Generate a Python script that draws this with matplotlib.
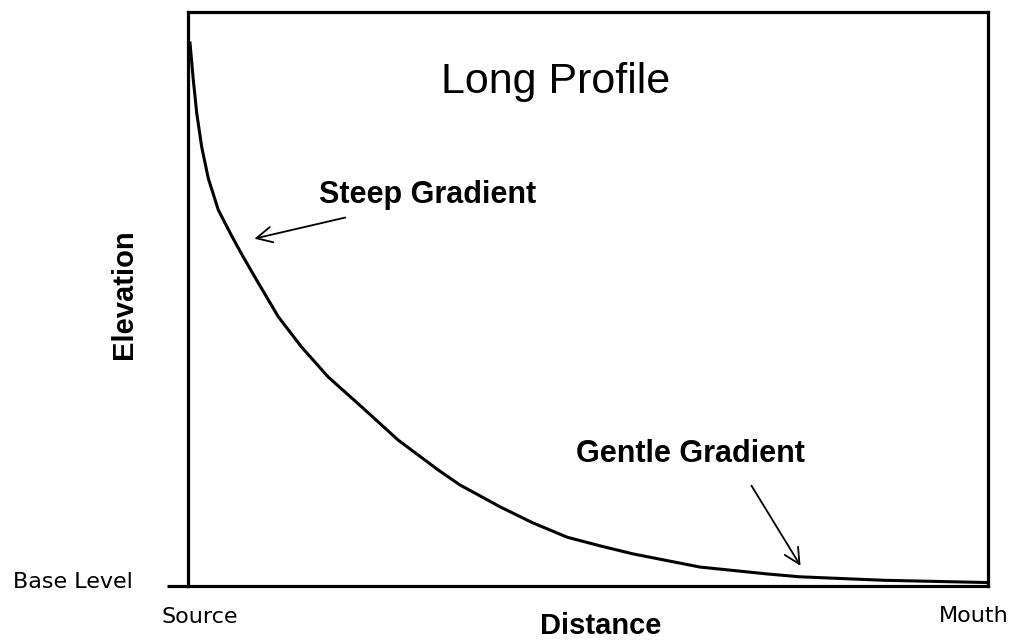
import numpy as np
import matplotlib.pyplot as plt

# data (distance and elevation in arbitrary units)
distance = [0.25, 0.66, 1.09, 1.71, 2.54, 3.79, 5.46, 6.71, 8.79, 11.29, 14.21,
            17.54, 21.71, 26.29, 31.29, 34.0, 39.0, 43.1, 47.4, 51.5, 55.6,
            64.0, 72.4, 76.5, 86.9, 100.0]
elevation = [94.6, 88.2, 82.4, 76.5, 71.0, 65.5, 61.0, 57.8, 52.8, 46.9, 41.6,
             36.4, 31.2, 25.4, 20.2, 17.6, 13.8, 11.0, 8.5, 7.0, 5.6,
             3.3, 2.1, 1.6, 1.0, 0.6]

steep_xy = (7.96, 60.4)
steep_text = (20.0, 64.3)
gentle_xy = (76.75, 3.1)
gentle_text = (70.25, 17.9)

fig = plt.figure(figsize=(10.11, 6.41), dpi=100)
ax = fig.add_axes([188/1011, 55/641, 800/1011, 574/641])
ax.plot(distance, elevation, color='black', lw=2.2, solid_joinstyle='round')
ax.set_xlim(0, 100)
ax.set_ylim(0, 100)
ax.set_xticks([])
ax.set_yticks([])
for s in ax.spines.values():
    s.set_linewidth(2.3)
# base level line runs a bit left of the axis
ax.plot([-2.6, 0], [0, 0], color='black', lw=2.3, clip_on=False, solid_capstyle='butt')

ax.text(45.9, 85.9, "Long Profile", fontsize=31, family='Liberation Sans',
        ha='center', va='baseline')

ax.annotate("", xy=steep_xy, xytext=steep_text,
            arrowprops=dict(arrowstyle='->', color='black', lw=1.3, mutation_scale=28))
ax.text(30.0, 66.7, "Steep Gradient", fontsize=22, family='Liberation Sans',
        weight='bold', ha='center', va='baseline')

ax.annotate("", xy=gentle_xy, xytext=gentle_text,
            arrowprops=dict(arrowstyle='->', color='black', lw=1.3, mutation_scale=28))
ax.text(62.75, 21.6, "Gentle Gradient", fontsize=22, family='Liberation Sans',
        weight='bold', ha='center', va='baseline')

fig.text(601/1011, 7/641, "Distance", fontsize=21, family='Liberation Sans',
         weight='bold', ha='center', va='baseline')
fig.text(124/1011, 347/641, "Elevation", fontsize=21, family='Liberation Sans',
         weight='bold', ha='center', va='center', rotation=90)
fig.text(13/1011, 53/641, "Base Level", fontsize=16, family='DejaVu Sans',
         ha='left', va='baseline')
fig.text(200/1011, 18/641, "Source", fontsize=16, family='DejaVu Sans',
         ha='center', va='baseline')
fig.text(974/1011, 19/641, "Mouth", fontsize=16, family='DejaVu Sans',
         ha='center', va='baseline')

plt.savefig('out.png', dpi=100)
